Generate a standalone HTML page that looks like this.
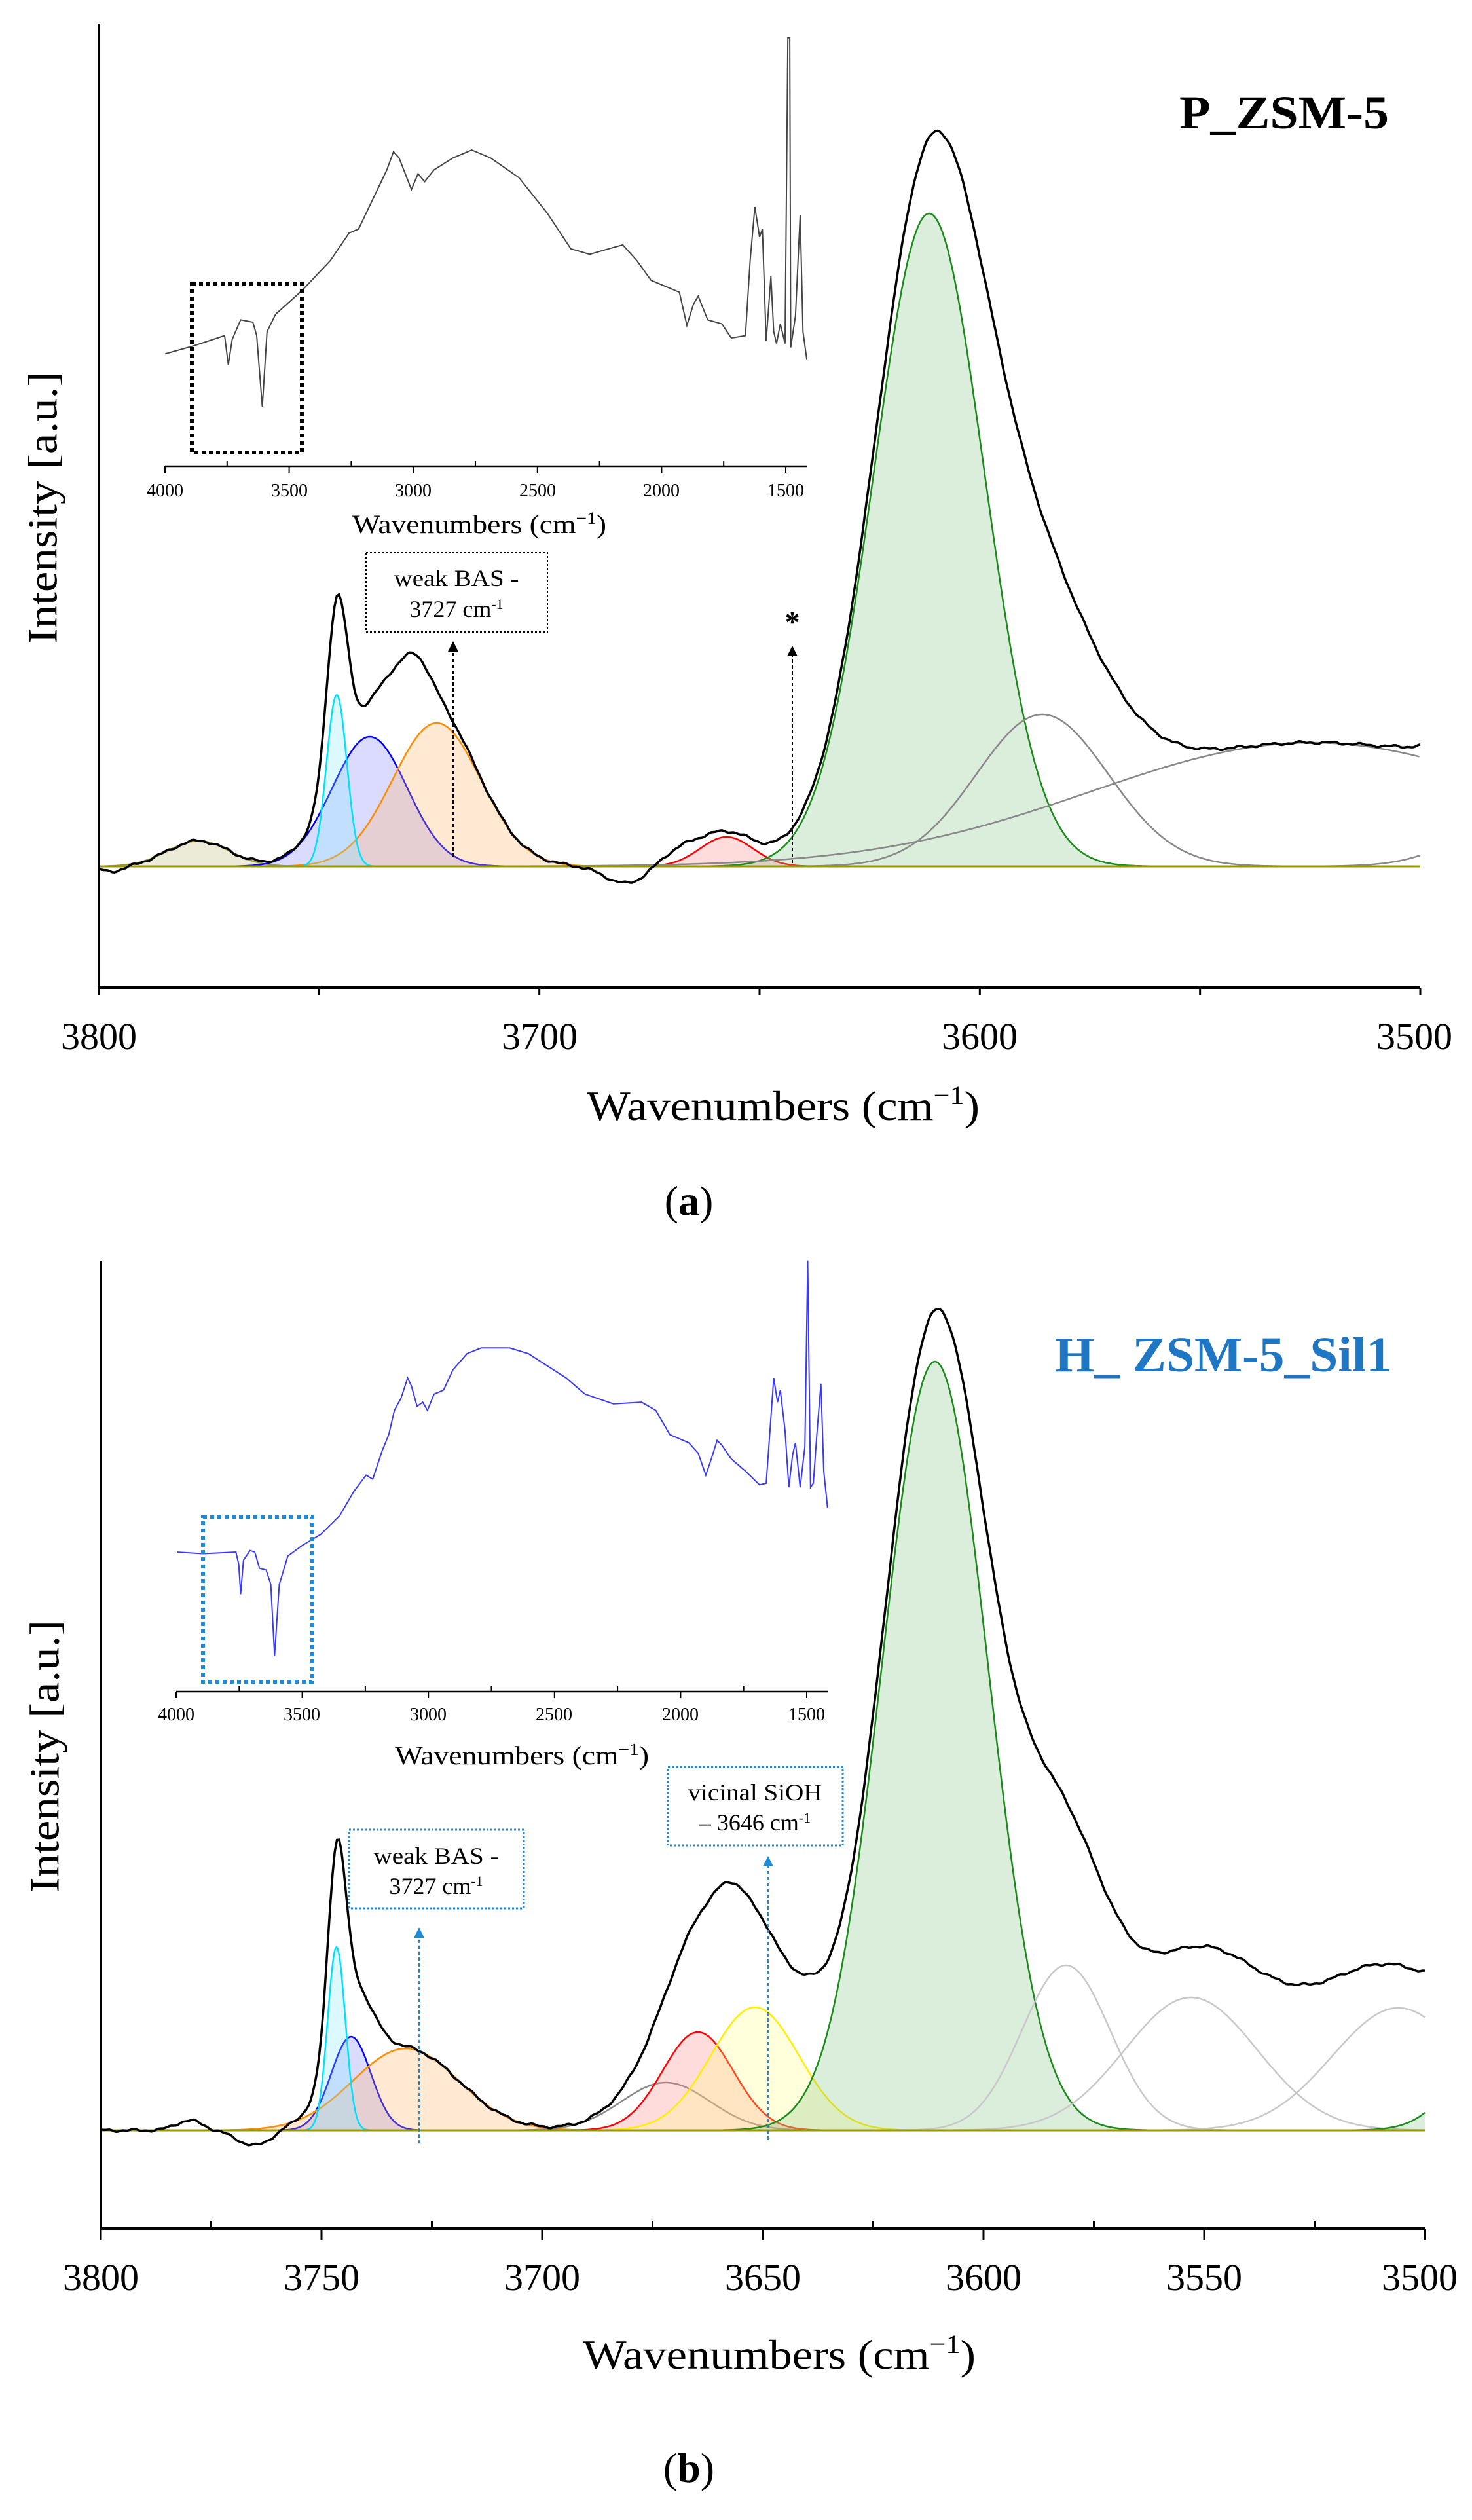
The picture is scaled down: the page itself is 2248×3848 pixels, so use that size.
<!DOCTYPE html>
<html><head><meta charset="utf-8">
<style>
html,body{margin:0;padding:0;background:#fff;}
svg{display:block;}
text{font-family:"Liberation Serif",serif;fill:#000;}
</style></head>
<body>
<svg id="s" width="2248" height="3848" viewBox="0 0 2248 3848" xmlns="http://www.w3.org/2000/svg">
<rect width="2248" height="3848" fill="#fff"/>
<g id="g"></g>
<!-- Panel a texts -->
<text x="1961" y="196" font-size="72" font-weight="bold" text-anchor="middle" textLength="320" lengthAdjust="spacingAndGlyphs">P_ZSM-5</text>
<text x="151" y="1602" font-size="58" text-anchor="middle">3800</text>
<text x="824" y="1602" font-size="58" text-anchor="middle">3700</text>
<text x="1496" y="1602" font-size="58" text-anchor="middle">3600</text>
<text x="2160" y="1602" font-size="58" text-anchor="middle">3500</text>
<text x="1196" y="1710" font-size="64" text-anchor="middle" textLength="600" lengthAdjust="spacingAndGlyphs">Wavenumbers (cm<tspan font-size="40" dy="-24">−1</tspan><tspan dy="24">)</tspan></text>
<text x="1052" y="1855" font-size="64" text-anchor="middle">(<tspan font-weight="bold">a</tspan>)</text>
<text transform="translate(65,775) rotate(-90)" font-size="64" text-anchor="middle" dominant-baseline="central" textLength="416" lengthAdjust="spacingAndGlyphs">Intensity [a.u.]</text>
<!-- inset a -->
<text x="252" y="758" font-size="28" text-anchor="middle">4000</text>
<text x="442" y="758" font-size="28" text-anchor="middle">3500</text>
<text x="631" y="758" font-size="28" text-anchor="middle">3000</text>
<text x="821" y="758" font-size="28" text-anchor="middle">2500</text>
<text x="1010" y="758" font-size="28" text-anchor="middle">2000</text>
<text x="1200" y="758" font-size="28" text-anchor="middle">1500</text>
<text x="732" y="814" font-size="40" text-anchor="middle" textLength="388" lengthAdjust="spacingAndGlyphs">Wavenumbers  (cm<tspan font-size="26" dy="-14">−1</tspan><tspan dy="14">)</tspan></text>
<rect x="559" y="844" width="277" height="121" fill="none" stroke="#000" stroke-width="2" stroke-dasharray="3,3"/>
<text x="697" y="895" font-size="36" text-anchor="middle" textLength="191" lengthAdjust="spacingAndGlyphs">weak BAS -</text>
<text x="697" y="942" font-size="36" text-anchor="middle">3727 cm<tspan font-size="22" dy="-12">-1</tspan></text>
<text x="1210" y="965" font-size="46" font-weight="bold" text-anchor="middle">*</text>
<!-- Panel b texts -->
<text x="1868" y="2094" font-size="76" font-weight="bold" text-anchor="middle" fill="#1f77c4" style="fill:#1f77c4" textLength="514" lengthAdjust="spacingAndGlyphs">H_ ZSM-5_Sil1</text>
<text x="154" y="3497" font-size="58" text-anchor="middle">3800</text>
<text x="491" y="3497" font-size="58" text-anchor="middle">3750</text>
<text x="828" y="3497" font-size="58" text-anchor="middle">3700</text>
<text x="1165" y="3497" font-size="58" text-anchor="middle">3650</text>
<text x="1502" y="3497" font-size="58" text-anchor="middle">3600</text>
<text x="1839" y="3497" font-size="58" text-anchor="middle">3550</text>
<text x="2168" y="3497" font-size="58" text-anchor="middle">3500</text>
<text x="1190" y="3617" font-size="64" text-anchor="middle" textLength="600" lengthAdjust="spacingAndGlyphs">Wavenumbers (cm<tspan font-size="40" dy="-24">−1</tspan><tspan dy="24">)</tspan></text>
<text x="1052" y="3790" font-size="64" text-anchor="middle">(<tspan font-weight="bold">b</tspan>)</text>
<text transform="translate(68,2682) rotate(-90)" font-size="64" text-anchor="middle" dominant-baseline="central" textLength="416" lengthAdjust="spacingAndGlyphs">Intensity [a.u.]</text>
<!-- inset b -->
<text x="269" y="2627" font-size="28" text-anchor="middle">4000</text>
<text x="461" y="2627" font-size="28" text-anchor="middle">3500</text>
<text x="654" y="2627" font-size="28" text-anchor="middle">3000</text>
<text x="846" y="2627" font-size="28" text-anchor="middle">2500</text>
<text x="1039" y="2627" font-size="28" text-anchor="middle">2000</text>
<text x="1232" y="2627" font-size="28" text-anchor="middle">1500</text>
<text x="797" y="2694" font-size="40" text-anchor="middle" textLength="388" lengthAdjust="spacingAndGlyphs">Wavenumbers  (cm<tspan font-size="26" dy="-14">−1</tspan><tspan dy="14">)</tspan></text>
<rect x="533" y="2794" width="267" height="120" fill="none" stroke="#1f8ad6" stroke-width="3" stroke-dasharray="3,3"/>
<text x="666" y="2846" font-size="36" text-anchor="middle" textLength="191" lengthAdjust="spacingAndGlyphs">weak BAS -</text>
<text x="666" y="2892" font-size="36" text-anchor="middle">3727 cm<tspan font-size="22" dy="-12">-1</tspan></text>
<rect x="1020" y="2698" width="267" height="120" fill="none" stroke="#1f8ad6" stroke-width="3" stroke-dasharray="3,3"/>
<text x="1153" y="2749" font-size="36" text-anchor="middle" textLength="205" lengthAdjust="spacingAndGlyphs">vicinal SiOH</text>
<text x="1153" y="2795" font-size="36" text-anchor="middle">– 3646 cm<tspan font-size="22" dy="-12">-1</tspan></text>
</svg>
<script>
var NS="http://www.w3.org/2000/svg",G=document.getElementById("g");
function el(t,a){var e=document.createElementNS(NS,t);for(var k in a)e.setAttribute(k,a[k]);G.appendChild(e);return e;}
function gau(w,c){return c.a*Math.exp(-Math.pow(w-c.c,2)/(2*c.s*c.s));}
function panel(P){
  var X=function(w){return P.x0+(3800-w)*(P.x1-P.x0)/300;};
  P.comps.forEach(function(c){
    var pts=[],lo=Math.max(3500,c.c-4*c.s),hi=Math.min(3800,c.c+4*c.s);
    for(var w=hi;w>=lo;w-=0.25)pts.push([X(w),P.yb-gau(w,c)]);
    var d="M"+pts.map(function(p){return p[0].toFixed(1)+","+p[1].toFixed(1);}).join("L");
    el("path",{d:d+"L"+pts[pts.length-1][0].toFixed(1)+","+P.yb+"L"+pts[0][0].toFixed(1)+","+P.yb+"Z",fill:c.f||c.k,"fill-opacity":c.f?0.28:0,stroke:"none"});
    el("path",{d:d,fill:"none",stroke:c.k,"stroke-width":2.5});
  });
  el("line",{x1:P.x0,y1:P.yb,x2:P.x1,y2:P.yb,stroke:"#9a9a00","stroke-width":3});
  var bp=[];
  for(var w=3800;w>=3500;w-=0.5){
    var v=0;P.comps.concat(P.extra).forEach(function(c){if(!c.nob)v+=gau(w,c);});
    v+=P.wig*Math.sin(w*0.9)+P.wig*0.6*Math.sin(w*2.3);
    bp.push(X(w).toFixed(1)+","+(P.yb-v).toFixed(1));
  }
  el("path",{d:"M"+bp.join("L"),fill:"none",stroke:"#000","stroke-width":3.5});
  el("line",{x1:P.x0,y1:P.top,x2:P.x0,y2:P.ax+2,stroke:"#000","stroke-width":4});
  el("line",{x1:P.x0,y1:P.ax,x2:P.x1,y2:P.ax,stroke:"#000","stroke-width":4});
  P.ticks.forEach(function(t){el("line",{x1:X(t[0]),y1:P.ax-t[1],x2:X(t[0]),y2:P.ax+t[2],stroke:"#000","stroke-width":3});});
}
var GR="#1a8a1a",GF="#7fbf7f";
panel({x0:151,x1:2169,yb:1323,top:36,ax:1508,wig:1.5,
 ticks:[[3800,0,12],[3750,0,12],[3700,0,12],[3650,0,12],[3600,0,12],[3550,0,12],[3500,0,12]],
 comps:[
  {c:3777.4,a:39,s:7,k:"#9a9a30",f:"#b8b870"},
  {c:3738.5,a:198,s:8.5,k:"#0000ff",f:"#7f7fff"},
  {c:3723.3,a:219,s:10,k:"#ff8c00",f:"#ffb060"},
  {c:3746,a:262,s:2.3,k:"#00e0ff",f:"#80e8ff"},
  {c:3657.5,a:45,s:6,k:"#ff0000",f:"#ff8080"},
  {c:3611.5,a:997,s:12.5,k:GR,f:GF},
  {c:3585.8,a:232,s:15,k:"#888"},
  {c:3524.7,a:189,s:50,k:"#888"},
  {c:3470,a:125,s:15,k:"#888"}],
 extra:[{c:3590,a:100,s:12},{c:3680,a:-28,s:5},{c:3797,a:-8,s:3},{c:3668,a:20,s:5},{c:3728,a:35,s:3},{c:3738,a:-15,s:3}]});
panel({x0:154,x1:2176,yb:3253,top:1925,ax:3403,wig:1.5,
 ticks:[[3800,0,18],[3775,12,0],[3750,0,18],[3725,12,0],[3700,0,18],[3675,12,0],[3650,0,18],[3625,12,0],[3600,0,18],[3575,12,0],[3550,0,18],[3525,12,0],[3500,0,18]],
 comps:[
  {c:3743.3,a:143,s:4.5,k:"#0000ff",f:"#7f7fff"},
  {c:3730.9,a:125,s:12,k:"#ff8c00",f:"#ffb060"},
  {c:3746.6,a:280,s:2,k:"#00e0ff",f:"#80e8ff"},
  {c:3672,a:73,s:10,k:"#888"},
  {c:3664.7,a:150,s:8,k:"#ff0000",f:"#ff8080"},
  {c:3651.8,a:188,s:10,k:"#ffee00",f:"#ffff80"},
  {c:3611,a:1174,s:12,k:GR,f:GF},
  {c:3581.3,a:252,s:10,k:"#c8c8c8"},
  {c:3553,a:203,s:15,k:"#c8c8c8"},
  {c:3506,a:187,s:15,k:"#c8c8c8"},
  {c:3480,a:200,s:10,k:GR,f:GF}],
 extra:[{c:3588,a:160,s:12},{c:3540,a:40,s:40},{c:3530,a:70,s:18},{c:3648,a:100,s:12},{c:3765,a:-25,s:4},{c:3780,a:15,s:3},{c:3611,a:40,s:10},{c:3657,a:20,s:3},{c:3645,a:-15,s:3}]});
function inset(o){
  var sx=1.441;
  var d="M"+o.pts.map(function(p){return (p[0]*sx).toFixed(1)+","+(p[1]*o.sy+o.oy).toFixed(1);}).join("L");
  el("path",{d:d,fill:"none",stroke:o.col,"stroke-width":2});
  el("line",{x1:o.ax0,y1:o.ay,x2:o.ax1,y2:o.ay,stroke:"#000","stroke-width":2.5});
  for(var i=0;i<=5;i++){var x=o.ax0+i*o.step;el("line",{x1:x,y1:o.ay,x2:x,y2:o.ay+10,stroke:"#000","stroke-width":2});
   if(i<5)el("line",{x1:x+o.step/2,y1:o.ay,x2:x+o.step/2,y2:o.ay-8,stroke:"#000","stroke-width":2});}
  el("rect",{x:o.bx[0],y:o.bx[1],width:o.bx[2],height:o.bx[3],fill:"none",stroke:o.bc,"stroke-width":6,"stroke-dasharray":"6,5"});
}
inset({col:"#444",sy:1.206,oy:0,ax0:252,ax1:1232,ay:712,step:189.6,bx:[293,434,168,257],bc:"#000",
 pts:[[175,448],[205,438],[238,425],[242,462],[246,430],[255,405],[268,408],[272,425],[278,515],[283,420],[292,398],[320,368],[350,330],[370,295],[380,290],[400,240],[410,215],[417,192],[423,200],[436,240],[443,220],[450,230],[460,215],[480,200],[500,190],[520,200],[550,225],[580,270],[605,315],[625,322],[645,315],[660,310],[675,330],[690,355],[720,370],[728,412],[735,385],[740,375],[750,405],[765,410],[775,428],[790,425],[795,330],[800,262],[805,300],[808,290],[812,432],[817,350],[820,420],[823,435],[827,410],[832,435],[835,48],[837,48],[838,440],[843,400],[848,272],[851,420],[855,455]]});
inset({col:"#3a3af0",sy:1.237,oy:1900,ax0:269,ax1:1264,ay:2583,step:192.6,bx:[310,2316,167,252],bc:"#1f8ad6",
 pts:[[188,380],[215,382],[250,380],[253,395],[255,432],[258,390],[265,378],[270,380],[275,400],[282,402],[287,420],[291,508],[296,420],[305,385],[320,372],[340,358],[360,335],[375,305],[388,285],[395,290],[405,255],[412,235],[418,205],[425,190],[432,165],[436,175],[442,200],[448,195],[453,205],[460,185],[470,180],[480,155],[495,135],[510,128],[540,128],[560,135],[580,150],[600,165],[620,185],[650,197],[680,195],[695,205],[710,235],[730,245],[740,258],[748,285],[753,268],[760,242],[765,248],[775,265],[790,280],[805,297],[812,295],[816,230],[820,165],[824,195],[827,180],[832,230],[836,300],[840,260],[843,245],[848,300],[853,250],[856,20],[859,300],[862,295],[866,230],[870,172],[873,280],[877,325]]});
function arrow(x,y1,y2,c){el("line",{x1:x,y1:y2,x2:x,y2:y1+14,stroke:c,"stroke-width":2,"stroke-dasharray":"5,4"});
 el("path",{d:"M"+(x-8)+","+(y1+16)+"L"+x+","+y1+"L"+(x+8)+","+(y1+16)+"Z",fill:c});}
arrow(692,979,1308,"#000");arrow(1210,986,1318,"#000");
arrow(640,2943,3273,"#1f8ad6");arrow(1173,2834,3267,"#1f8ad6");
</script>
</body></html>
